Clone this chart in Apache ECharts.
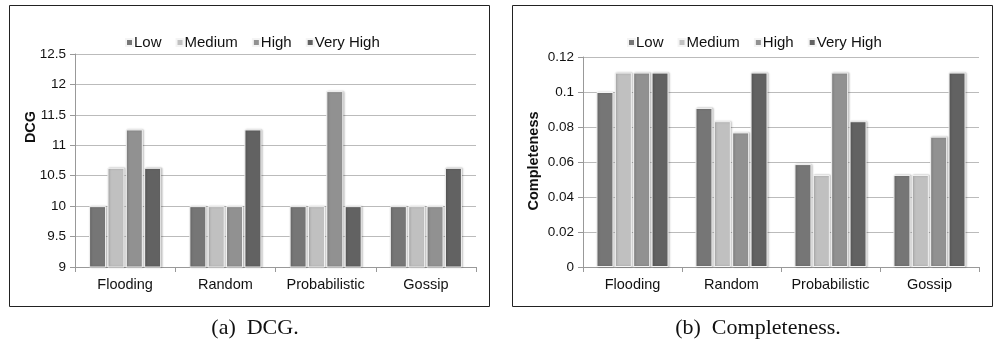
<!DOCTYPE html>
<html><head><meta charset="utf-8">
<script src="https://cdn.jsdelivr.net/npm/echarts@6/dist/echarts.min.js"></script>
<style>html,body{margin:0;padding:0;background:#fff}#c{width:994px;height:341px}</style>
</head><body><div id="c"></div>
<script>
const categories = ['Flooding', 'Random', 'Probabilistic', 'Gossip'];
const levels = ['Low', 'Medium', 'High', 'Very High'];
const dcgLow = [10, 10, 10, 10];
const dcgMedium = [10.63, 10, 10, 10];
const dcgHigh = [11.26, 10, 11.89, 10];
const dcgVeryHigh = [10.63, 11.26, 10, 10.63];
const compLow = [0.1, 0.0909, 0.0588, 0.0526];
const compMedium = [0.1111, 0.0833, 0.0526, 0.0526];
const compHigh = [0.1111, 0.0769, 0.1111, 0.0745];
const compVeryHigh = [0.1111, 0.1111, 0.0833, 0.1111];
const dcgTicks = {min: 9, max: 12.5, interval: 0.5};
const compTicks = {min: 0, max: 0.12, interval: 0.02};
const colors = ['#767676', '#c0c0c0', '#919191', '#626262'];

const font = 'Liberation Sans, Arial, sans-serif';
const chart = echarts.init(document.getElementById('c'));

function barSeries(name, data, idx) {
  return {
    type: 'bar', name: name, data: data, xAxisIndex: idx, yAxisIndex: idx,
    barWidth: 17, barGap: '8%',
    itemStyle: {color: colors[levels.indexOf(name)], borderColor: '#f4f4f4', borderWidth: 1,
      shadowColor: 'rgba(0,0,0,0.25)', shadowBlur: 2, shadowOffsetX: 1}
  };
}
function xAx(idx) {
  return {type: 'category', gridIndex: idx, data: categories,
    axisLine: {lineStyle: {color: '#999'}},
    axisTick: {show: true, length: 5, lineStyle: {color: '#999'}},
    axisLabel: {color: '#111', fontFamily: font, fontSize: 14.5, margin: 10, interval: 0}};
}
function yAx(idx, t) {
  return Object.assign({type: 'value', gridIndex: idx,
    axisLine: {show: true, lineStyle: {color: '#999'}},
    axisTick: {show: true, length: 5, lineStyle: {color: '#999'}},
    splitLine: {lineStyle: {color: '#bbb'}},
    axisLabel: {color: '#111', fontFamily: font, fontSize: 13.5, margin: 9}}, t);
}
const legendBase = {itemWidth: 7, itemHeight: 7, itemGap: 14, icon: 'rect',
  textStyle: {fontFamily: font, fontSize: 15, color: '#111', padding: [0, 0, 0, -4]}, data: levels};

chart.setOption({
  animation: false,
  grid: [
    {left: 75, right: 518, top: 54, bottom: 74},
    {left: 583, right: 15, top: 57, bottom: 74}
  ],
  legend: [
    Object.assign({left: 120, top: 30}, legendBase),
    Object.assign({left: 622, top: 30}, legendBase)
  ],
  xAxis: [xAx(0), xAx(1)],
  yAxis: [yAx(0, dcgTicks), yAx(1, compTicks)],
  series: [
    barSeries('Low', dcgLow, 0), barSeries('Medium', dcgMedium, 0),
    barSeries('High', dcgHigh, 0), barSeries('Very High', dcgVeryHigh, 0),
    barSeries('Low', compLow, 1), barSeries('Medium', compMedium, 1),
    barSeries('High', compHigh, 1), barSeries('Very High', compVeryHigh, 1)
  ],
  graphic: [
    {type: 'rect', shape: {x: 9.5, y: 5.5, width: 480, height: 301}, style: {fill: 'none', stroke: '#222', lineWidth: 1}, silent: true},
    {type: 'rect', shape: {x: 512.5, y: 5.5, width: 480, height: 301}, style: {fill: 'none', stroke: '#222', lineWidth: 1}, silent: true},
    {type: 'text', x: 31, y: 127, rotation: Math.PI / 2, style: {text: 'DCG', font: 'bold 14.5px ' + font, fill: '#111', align: 'center', verticalAlign: 'middle'}},
    {type: 'text', x: 534, y: 161, rotation: Math.PI / 2, style: {text: 'Completeness', font: 'bold 14.5px ' + font, fill: '#111', align: 'center', verticalAlign: 'middle'}},
    {type: 'text', x: 255, y: 328, style: {text: '(a)  DCG.', font: '22px Liberation Serif, DejaVu Serif, serif', fill: '#111', align: 'center', verticalAlign: 'middle'}},
    {type: 'text', x: 758, y: 328, style: {text: '(b)  Completeness.', font: '22px Liberation Serif, DejaVu Serif, serif', fill: '#111', align: 'center', verticalAlign: 'middle'}}
  ]
});
</script></body></html>
